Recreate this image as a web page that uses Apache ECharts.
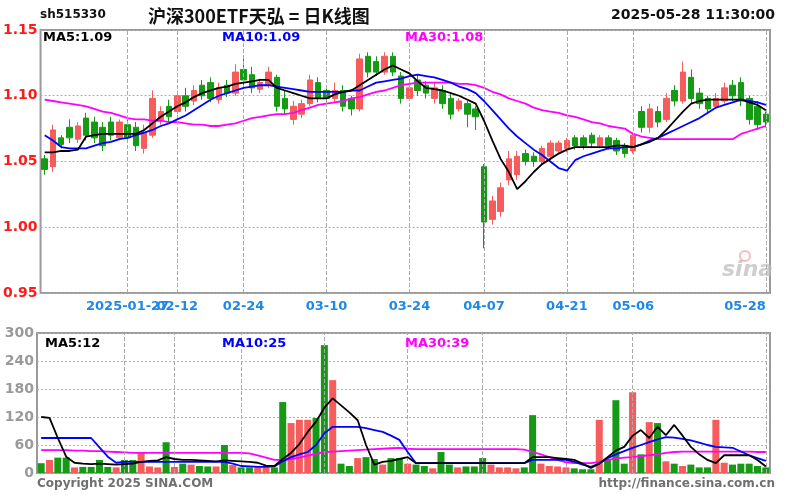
<!DOCTYPE html>
<html><head><meta charset="utf-8">
<script src="https://cdn.jsdelivr.net/npm/echarts@6/dist/echarts.min.js"></script>
<style>html,body{margin:0;padding:0;background:#fff}#c{width:800px;height:500px}</style>
</head><body><div id="c"></div>
<script>
const dates = [
'2025-01-13','2025-01-14','2025-01-15','2025-01-16','2025-01-17','2025-01-20','2025-01-21','2025-01-22','2025-01-23','2025-01-24','2025-01-27',
'2025-02-05','2025-02-06','2025-02-07','2025-02-10','2025-02-11','2025-02-12','2025-02-13','2025-02-14','2025-02-17','2025-02-18','2025-02-19','2025-02-20','2025-02-21','2025-02-24','2025-02-25','2025-02-26','2025-02-27','2025-02-28',
'2025-03-03','2025-03-04','2025-03-05','2025-03-06','2025-03-07','2025-03-10','2025-03-11','2025-03-12','2025-03-13','2025-03-14','2025-03-17','2025-03-18','2025-03-19','2025-03-20','2025-03-21','2025-03-24','2025-03-25','2025-03-26','2025-03-27','2025-03-28','2025-03-31',
'2025-04-01','2025-04-02','2025-04-03','2025-04-07','2025-04-08','2025-04-09','2025-04-10','2025-04-11','2025-04-14','2025-04-15','2025-04-16','2025-04-17','2025-04-18','2025-04-21','2025-04-22','2025-04-23','2025-04-24','2025-04-25','2025-04-28','2025-04-29','2025-04-30',
'2025-05-06','2025-05-07','2025-05-08','2025-05-09','2025-05-12','2025-05-13','2025-05-14','2025-05-15','2025-05-16','2025-05-19','2025-05-20','2025-05-21','2025-05-22','2025-05-23','2025-05-26','2025-05-27','2025-05-28'];

const opens = [1.052,1.046,1.068,1.076,1.067,1.083,1.080,1.076,1.080,1.068,
1.078,1.076,1.060,1.070,1.082,1.092,1.088,1.100,1.096,1.108,
1.110,1.097,1.108,1.102,1.120,1.116,1.105,1.108,1.114,1.098,
1.082,1.086,1.094,1.110,1.104,1.098,1.104,1.098,1.090,1.130,
1.126,1.118,1.130,1.115,1.098,1.112,1.108,1.098,1.104,1.098,
1.090,1.094,1.090,1.046,1.006,1.012,1.036,1.040,1.056,1.054,
1.050,1.054,1.058,1.060,1.068,1.068,1.070,1.062,1.068,1.066,
1.062,1.058,1.088,1.076,1.088,1.082,1.104,1.096,1.114,1.102,
1.098,1.092,1.096,1.108,1.110,1.098,1.092,1.086];
const closes = [1.044,1.074,1.063,1.068,1.077,1.070,1.068,1.062,1.070,1.080,
1.068,1.062,1.072,1.098,1.088,1.084,1.100,1.092,1.104,1.100,
1.098,1.106,1.102,1.118,1.112,1.106,1.110,1.118,1.092,1.090,
1.092,1.094,1.112,1.098,1.098,1.104,1.092,1.090,1.128,1.118,
1.118,1.130,1.118,1.098,1.106,1.104,1.102,1.106,1.094,1.086,
1.096,1.086,1.084,1.004,1.020,1.030,1.052,1.054,1.050,1.050,
1.060,1.064,1.064,1.066,1.062,1.062,1.064,1.068,1.062,1.058,
1.056,1.070,1.076,1.090,1.080,1.098,1.096,1.118,1.098,1.094,
1.090,1.098,1.106,1.100,1.096,1.082,1.078,1.080];
const lows = [1.040,1.042,1.060,1.064,1.064,1.066,1.064,1.058,1.066,1.066,
1.064,1.058,1.056,1.068,1.078,1.080,1.086,1.088,1.093,1.097,
1.095,1.094,1.099,1.100,1.108,1.102,1.102,1.106,1.088,1.086,
1.078,1.083,1.092,1.095,1.095,1.095,1.088,1.085,1.088,1.114,
1.115,1.116,1.115,1.094,1.096,1.100,1.098,1.094,1.090,1.082,
1.088,1.076,1.074,0.984,1.002,1.008,1.032,1.036,1.047,1.046,
1.047,1.051,1.055,1.057,1.059,1.059,1.061,1.060,1.059,1.055,
1.053,1.056,1.072,1.072,1.076,1.080,1.092,1.094,1.094,1.090,
1.086,1.090,1.094,1.096,1.092,1.078,1.074,1.076];
const highs = [1.055,1.078,1.070,1.082,1.080,1.087,1.084,1.080,1.084,1.082,
1.082,1.080,1.078,1.104,1.092,1.097,1.104,1.106,1.108,1.112,
1.114,1.110,1.112,1.124,1.128,1.122,1.113,1.122,1.116,1.104,
1.096,1.097,1.116,1.114,1.108,1.110,1.108,1.100,1.132,1.133,
1.130,1.133,1.133,1.118,1.108,1.116,1.111,1.110,1.108,1.102,
1.098,1.096,1.092,1.048,1.024,1.034,1.058,1.058,1.059,1.057,
1.062,1.066,1.066,1.068,1.070,1.070,1.072,1.070,1.070,1.068,
1.064,1.072,1.092,1.094,1.092,1.102,1.108,1.126,1.120,1.106,
1.100,1.102,1.110,1.112,1.114,1.100,1.096,1.088];

const ma5 = [1.057,1.057,1.058,1.058,1.059,1.069,1.070,1.071,1.071,1.071,
1.071,1.071,1.074,1.079,1.084,1.088,1.092,1.095,1.099,1.102,
1.104,1.106,1.107,1.109,1.110,1.111,1.112,1.112,1.106,1.104,
1.102,1.100,1.098,1.098,1.098,1.101,1.103,1.104,1.108,1.112,
1.116,1.120,1.123,1.120,1.117,1.111,1.106,1.105,1.104,1.102,
1.100,1.097,1.094,1.081,1.066,1.052,1.042,1.029,1.035,1.042,
1.048,1.052,1.056,1.059,1.061,1.061,1.061,1.061,1.061,1.062,
1.062,1.061,1.063,1.065,1.068,1.074,1.081,1.088,1.094,1.096,
1.097,1.097,1.097,1.097,1.097,1.095,1.093,1.089];
const ma10 = [1.070,1.066,1.061,1.060,1.060,1.060,1.062,1.064,1.065,1.067,
1.068,1.070,1.072,1.074,1.077,1.079,1.082,1.085,1.089,1.093,
1.097,1.100,1.102,1.104,1.106,1.107,1.108,1.108,1.107,1.106,
1.105,1.104,1.103,1.103,1.103,1.103,1.103,1.104,1.104,1.107,
1.110,1.111,1.112,1.113,1.115,1.116,1.115,1.114,1.112,1.110,
1.107,1.105,1.102,1.096,1.089,1.082,1.075,1.069,1.064,1.059,
1.055,1.050,1.045,1.043,1.051,1.054,1.056,1.058,1.060,1.060,
1.061,1.061,1.063,1.066,1.068,1.071,1.074,1.077,1.080,1.083,
1.087,1.091,1.093,1.095,1.097,1.096,1.095,1.093];
const ma30 = [1.097,1.096,1.095,1.094,1.093,1.092,1.090,1.088,1.087,1.085,
1.083,1.082,1.082,1.081,1.081,1.080,1.080,1.079,1.078,1.078,
1.077,1.077,1.078,1.079,1.081,1.083,1.084,1.085,1.086,1.086,
1.087,1.089,1.091,1.093,1.094,1.095,1.096,1.098,1.099,1.101,
1.103,1.104,1.106,1.108,1.109,1.110,1.110,1.110,1.110,1.110,
1.109,1.109,1.108,1.106,1.103,1.101,1.098,1.096,1.094,1.091,
1.089,1.088,1.087,1.085,1.084,1.082,1.080,1.079,1.077,1.076,
1.075,1.071,1.069,1.068,1.067,1.067,1.067,1.067,1.067,1.067,
1.067,1.067,1.067,1.067,1.071,1.073,1.075,1.077];

const volumes = [21,28,33,33,12,13,13,28,13,12,
28,28,43,14,12,66,13,20,18,15,
14,14,60,17,12,12,12,12,12,152,
107,114,114,118,274,199,20,15,32,34,
30,18,32,32,20,18,15,10,45,18,
12,14,14,32,18,12,12,10,12,124,
20,15,14,12,10,8,8,114,30,156,
20,173,40,109,107,25,20,15,18,12,
12,114,22,18,20,20,15,12];
const volMa5 = [120,118,75,35,22,20,19,20,19,18,
19,20,24,26,27,34,30,28,28,27,
26,25,27,26,25,24,22,16,15,30,
43,62,88,110,140,160,145,130,113,60,
18,24,26,30,34,21,21,21,21,21,
21,21,21,21,21,21,21,21,21,34,
34,34,32,30,28,20,11,20,34,48,
56,80,92,75,99,81,103,80,56,40,
28,21,38,38,38,38,28,14];
const volMa10 = [75,75,75,75,75,75,75,55,35,22,
24,24,24,24,24,24,24,24,24,24,
24,24,24,20,15,14,13,13,14,25,
34,40,45,60,85,99,99,99,99,96,
92,88,80,71,45,21,21,21,21,21,
21,21,21,21,21,21,21,21,21,28,
28,28,28,28,24,18,13,20,32,40,
47,54,60,66,72,77,76,73,70,65,
60,56,55,54,46,38,32,26];
const volMa30 = [49,49,49,49,48,48,47,47,46,45,
44,43,43,43,43,43,43,43,43,43,
43,43,43,43,43,42,38,33,28,28,
30,33,37,41,45,46,47,48,49,50,
51,52,53,54,52,51,51,51,51,51,
51,51,51,51,51,51,51,51,50,45,
40,34,28,23,21,21,21,24,28,31,
33,34,36,38,40,43,45,46,46,46,
46,46,46,46,46,46,45,45];

const labelDates = ['2025-01-27','2025-02-12','2025-02-24','2025-03-10','2025-03-24','2025-04-07','2025-04-21','2025-05-06','2025-05-28'];
const priceMin = 0.95, priceMax = 1.15, priceStep = 0.05;
const volMin = 0, volMax = 300, volStep = 60;
const priceLegend = ['MA5:1.09','MA10:1.09','MA30:1.08'];
const volLegend = ['MA5:12','MA10:25','MA30:39'];

const RED = '#f65c5c', GREEN = '#169a16';
const FONT = 'DejaVu Sans';
const chart = echarts.init(document.getElementById('c'), null, {renderer:'canvas'});

const gridCommon = {left:37, right:30, show:true, borderColor:'#9a9a9a', borderWidth:2, backgroundColor:'transparent'};
function vLines(){ return {
  symbol:['none','none'], silent:true, label:{show:false},
  lineStyle:{color:'#aaaaaa', type:'dashed', width:1},
  emphasis:{disabled:true},
  data: labelDates.map(d => ({xAxis: dates.indexOf(d)}))
};}

function txt(text, x, y, color, size, align, family){
  return {type:'text', x:x, y:y, z:100, style:{text:text, fill:color,
    font:'bold '+size+'px "'+(family||FONT)+'"', textAlign:align||'left', align:align||'left',
    textVerticalAlign:'middle', verticalAlign:'middle'}};
}
const xLabelStyle = {color:'#1e88e5', fontWeight:'bold', fontSize:13, fontFamily:FONT, margin:7};
const firstGroup = labelDates.filter(d => d !== '2025-02-12');

const option = {
  animation:false,
  backgroundColor:'#ffffff',
  grid:[Object.assign({top:30, height:263}, gridCommon), Object.assign({top:333, height:140}, gridCommon)],
  xAxis:[
    {type:'category', gridIndex:0, data:dates, boundaryGap:true,
     axisLine:{show:false}, axisTick:{show:false}, splitLine:{show:false},
     axisLabel:Object.assign({interval:(i,v)=>firstGroup.indexOf(v)>=0, formatter:v=> v==='2025-01-27'? v : v.slice(5),
       alignMaxLabel:'right'}, xLabelStyle)},
    {type:'category', gridIndex:1, data:dates, boundaryGap:true,
     axisLine:{show:false}, axisTick:{show:false}, axisLabel:{show:false}, splitLine:{show:false}},
    {type:'category', gridIndex:0, data:dates, boundaryGap:true, position:'bottom',
     axisLine:{show:false}, axisTick:{show:false}, splitLine:{show:false},
     axisLabel:Object.assign({interval:(i,v)=>v==='2025-02-12', formatter:v=>v.slice(5)}, xLabelStyle)}
  ],
  yAxis:[
    {type:'value', gridIndex:0, min:priceMin, max:priceMax, interval:priceStep, scale:true,
     axisLine:{show:false}, axisTick:{show:false},
     axisLabel:{color:'#ff1a1a', fontWeight:'bold', fontSize:14, fontFamily:FONT, margin:3, formatter:v=>v.toFixed(2)},
     splitLine:{show:true, lineStyle:{color:'#b0b0b0', type:[2,2], width:1}}},
    {type:'value', gridIndex:1, min:volMin, max:volMax, interval:volStep,
     axisLine:{show:false}, axisTick:{show:false},
     axisLabel:{color:'#9a9a9a', fontWeight:'bold', fontSize:14, fontFamily:FONT, margin:3},
     splitLine:{show:true, lineStyle:{color:'#b0b0b0', type:[2,2], width:1}}}
  ],
  series:[
    {type:'candlestick', xAxisIndex:0, yAxisIndex:0, z:3, barWidth:'72%',
     data: dates.map((d,i)=>[opens[i], closes[i], lows[i], highs[i]]),
     itemStyle:{color:RED, color0:GREEN, borderColor:RED, borderColor0:GREEN, borderWidth:1},
     markLine: vLines()},
    {type:'line', xAxisIndex:0, yAxisIndex:0, z:4, data:ma30, symbol:'none', lineStyle:{color:'#ff00ff', width:1.8}},
    {type:'line', xAxisIndex:0, yAxisIndex:0, z:5, data:ma10, symbol:'none', lineStyle:{color:'#0000ff', width:1.8}},
    {type:'line', xAxisIndex:0, yAxisIndex:0, z:6, data:ma5, symbol:'none', lineStyle:{color:'#000000', width:1.8}},
    {type:'bar', xAxisIndex:1, yAxisIndex:1, z:3, barWidth:'84%',
     data: volumes.map((v,i)=>({value:v, itemStyle:{color: closes[i]>=opens[i] ? RED : GREEN}})),
     markLine: vLines()},
    {type:'line', xAxisIndex:1, yAxisIndex:1, z:4, data:volMa30, symbol:'none', lineStyle:{color:'#ff00ff', width:1.8}},
    {type:'line', xAxisIndex:1, yAxisIndex:1, z:5, data:volMa10, symbol:'none', lineStyle:{color:'#0000ff', width:1.8}},
    {type:'line', xAxisIndex:1, yAxisIndex:1, z:6, data:volMa5, symbol:'none', lineStyle:{color:'#000000', width:1.8}}
  ],
  graphic:[
    txt('sh515330', 40, 15, '#111', 12),
    txt('沪深300ETF天弘 = 日K线图', 148, 16, '#111', 18, 'left', 'Noto Sans CJK SC'),
    txt('2025-05-28 11:30:00', 775, 15, '#111', 14, 'right'),
    txt(priceLegend[0], 43, 38, '#000000', 13),
    txt(priceLegend[1], 222, 38, '#0000ff', 13),
    txt(priceLegend[2], 405, 38, '#ff00ff', 13),
    txt(volLegend[0], 45, 344, '#000000', 13),
    txt(volLegend[1], 222, 344, '#0000ff', 13),
    txt(volLegend[2], 405, 344, '#ff00ff', 13),
    txt('Copyright 2025 SINA.COM', 37, 484, '#707070', 12),
    txt('http://finance.sina.com.cn', 775, 484, '#707070', 12, 'right'),
    {type:'text', x:722, y:270, z:2, style:{text:'sina', fill:'rgba(190,190,190,0.75)', font:'italic bold 22px "DejaVu Sans"', textVerticalAlign:'middle', verticalAlign:'middle'}},
    {type:'circle', z:2, shape:{cx:745, cy:256, r:5}, style:{fill:'none', stroke:'rgba(240,140,140,0.6)', lineWidth:2}}
  ]
};
chart.setOption(option);
</script>
</body></html>
